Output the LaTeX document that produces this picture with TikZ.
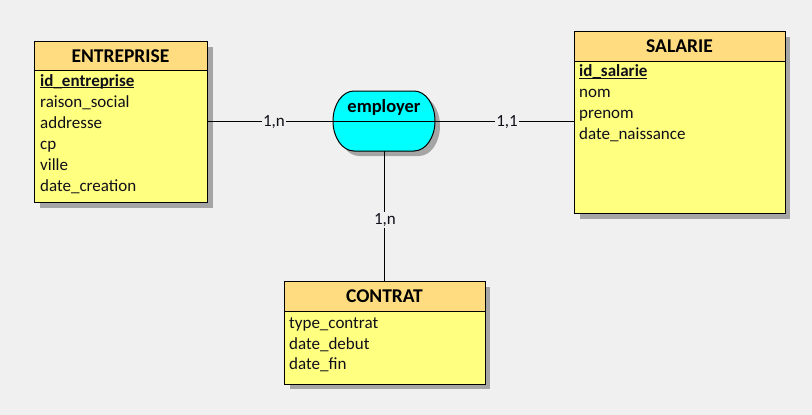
\documentclass[tikz,border=0pt]{standalone}
\usepackage{fontspec}
\setmainfont{Carlito}
\definecolor{bgc}{RGB}{240,240,240}
\definecolor{headc}{RGB}{255,220,128}
\definecolor{bodyc}{RGB}{255,255,128}
\definecolor{shadowc}{RGB}{165,165,165}
\definecolor{assoc}{RGB}{0,255,255}
\definecolor{txtc}{RGB}{15,15,25}
\newcommand{\pkey}[1]{\textbf{#1}\llap{\rule[-2.2pt]{\widthof{\textbf{#1}}}{1.1pt}}}
\usepackage{calc}
\tikzset{
  box/.style={draw=black, line width=1pt, fill=bodyc, inner sep=0pt, outer sep=0pt, anchor=north west},
  head/.style={draw=black, line width=1pt, fill=headc, inner sep=0pt, outer sep=0pt, anchor=north west},
  title/.style={font=\fontsize{19.5}{21}\selectfont\bfseries, anchor=base, inner sep=0pt, text=black},
  attr/.style={font=\fontsize{17}{19}\selectfont, anchor=base west, inner sep=0pt, text=txtc},
  card/.style={font=\fontsize{17}{19}\selectfont, anchor=base, fill=bgc, inner sep=1.5pt, text=txtc},
  link/.style={draw=black, line width=1pt},
}
\begin{document}
\begin{tikzpicture}[x=1pt,y=-1pt]
\fill[bgc] (0,0) rectangle (812,415);
\useasboundingbox (0,0) rectangle (812,415);

\coordinate (empc) at (384,121);

% shadows
\fill[shadowc] (40,47) rectangle (213,208);
\fill[shadowc] (580,37) rectangle (790,219);
\fill[shadowc] (290,287) rectangle (490,389);
\fill[shadowc] (359,96) -- (419,96) arc[start angle=-90,end angle=90,x radius=21,y radius=30] -- (359,156) arc[start angle=90,end angle=270,x radius=21,y radius=30] -- cycle;

% ENTREPRISE
\node[box, minimum width=173pt, minimum height=161pt] (ent) at (34,41) {};
\node[head, minimum width=173pt, minimum height=29pt] (enth) at (34,41) {};
\node[title] (entt) at (120.5,62.3) {ENTREPRISE};
\node[attr] (e1) at (40,86) {\pkey{id\_entreprise}};
\node[attr] (e2) at (40,107) {raison\_social};
\node[attr] (e3) at (40,128) {addresse};
\node[attr] (e4) at (40,149) {cp};
\node[attr] (e5) at (40,170) {ville};
\node[attr] (e6) at (40,191) {date\_creation};

% SALARIE
\node[box, minimum width=211pt, minimum height=182pt] (sal) at (574,31) {};
\node[head, minimum width=211pt, minimum height=30pt] (salh) at (574,31) {};
\node[title] (salt) at (679.5,52.3) {SALARIE};
\node[attr] (s1) at (579,76.7) {\pkey{id\_salarie}};
\node[attr] (s2) at (579,97.7) {nom};
\node[attr] (s3) at (579,118.7) {prenom};
\node[attr] (s4) at (579,139.7) {date\_naissance};

% CONTRAT
\node[box, minimum width=201pt, minimum height=103pt] (con) at (284,281) {};
\node[head, minimum width=201pt, minimum height=30pt] (conh) at (284,281) {};
\node[title] (cont) at (384.5,302.3) {CONTRAT};
\node[attr] (c1) at (289,328.3) {type\_contrat};
\node[attr] (c2) at (289,349) {date\_debut};
\node[attr] (c3) at (289,369.7) {date\_fin};

% association employer
\node[minimum width=98pt, minimum height=60pt, inner sep=0pt, outer sep=0pt] (emp) at (empc) {};
\draw[line width=1pt, fill=assoc] (354,91) -- (414,91) arc[start angle=-90,end angle=90,x radius=21,y radius=30] -- (354,151) arc[start angle=90,end angle=270,x radius=21,y radius=30] -- cycle;
\draw[link] (emp.west) -- (emp.east);
\node[font=\fontsize{18.5}{20}\selectfont\bfseries, anchor=base, inner sep=0pt] (empt) at (384,112.3) {employer};

% connectors
\draw[link] (ent.east |- emp.west) -- (emp.west);
\draw[link] (emp.east) -- (sal.west |- emp.east);
\draw[link] (emp.south) -- (con.north -| emp.south);

\node[card] (k1) at (274,126.7) {1,n};
\node[card] (k2) at (507,126.7) {1,1};
\node[card] (k3) at (385,224) {1,n};
\end{tikzpicture}
\end{document}
